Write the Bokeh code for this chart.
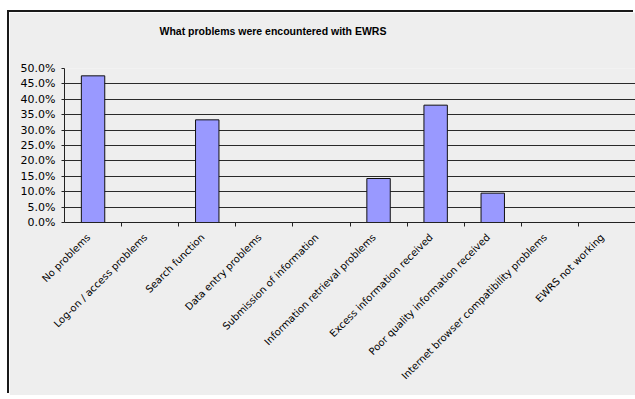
from math import pi

from bokeh.embed import file_html
from bokeh.models import ColumnDataSource, FixedTicker, NumeralTickFormatter, Range1d
from bokeh.plotting import figure
from bokeh.resources import INLINE

# Survey answers: share of respondents naming each problem
categories = [
    "No problems",
    "Log-on / access problems",
    "Search function",
    "Data entry problems",
    "Submission of information",
    "Information retrieval problems",
    "Excess information received",
    "Poor quality information received",
    "Internet browser compatibility problems",
    "EWRS not working",
]
shares = [10 / 21, 0.0, 7 / 21, 0.0, 0.0, 3 / 21, 8 / 21, 2 / 21, 0.0, 0.0]
y_ticks = [0.0, 0.05, 0.10, 0.15, 0.20, 0.25, 0.30, 0.35, 0.40, 0.45, 0.50]
chart_title = "What problems were encountered with EWRS"

positions = [i + 0.5 for i in range(len(categories))]
source = ColumnDataSource(dict(x=positions, share=shares, name=categories))

BG = "#EEEEEE"

p = figure(
    width=626,
    height=383,
    x_range=Range1d(0, len(categories)),
    y_range=Range1d(0, 0.5),
    output_backend="svg",
    toolbar_location=None,
    min_border_left=55,
    min_border_right=0,
    min_border_top=56,
    min_border_bottom=173,
    background_fill_color=BG,
    border_fill_color=BG,
    outline_line_color=None,
    title=chart_title + "\n \n ",
)
p.margin = (12, 0, 0, 9)
# dark frame line along the top and left of the chart area
p.styles = {"box-shadow": "-2px -2px 0 0 #1a1a1a"}

# chart title, kept near the top of the chart area by the padding lines
p.title.align = "left"
p.title.vertical_align = "top"
p.title.offset = 95
p.title.standoff = 12
p.title.text_font = "Liberation Sans"
p.title.text_font_style = "bold"
p.title.text_font_size = "10.5px"
p.title.text_color = "#000000"

# bars
p.vbar(x="x", top="share", width=0.41, source=source,
       fill_color="#9999FF", line_color="#111111", line_width=1)

# y axis: percentages with horizontal grid
p.yaxis.ticker = FixedTicker(ticks=y_ticks)
p.yaxis.formatter = NumeralTickFormatter(format="0.0%")
p.yaxis.major_label_text_font = "DejaVu Sans"
p.yaxis.major_label_text_font_size = "11px"
p.yaxis.major_label_text_color = "#000000"
p.yaxis.major_tick_out = 3
p.yaxis.major_tick_in = 0
p.yaxis.minor_tick_line_color = None
p.yaxis.axis_line_color = "#222222"
p.yaxis.major_tick_line_color = "#222222"
p.yaxis.major_label_standoff = 6
p.ygrid.grid_line_color = "#2a2a2a"
p.ygrid.grid_line_width = 1
p.xgrid.grid_line_color = None

# x axis: slanted category names ending just left of each bar centre,
# tick marks between categories
label_at = [pos - 0.08 for pos in positions]
p.xaxis.ticker = FixedTicker(ticks=label_at, minor_ticks=list(range(1, len(categories))))
p.xaxis.major_label_overrides = {pos: name for pos, name in zip(label_at, categories)}
p.xaxis.major_label_orientation = pi / 4
p.xaxis.major_label_text_font = "DejaVu Sans"
p.xaxis.major_label_text_font_size = "10px"
p.xaxis.major_label_text_color = "#000000"
p.xaxis.major_tick_out = 0
p.xaxis.major_tick_in = 0
p.xaxis.minor_tick_out = 4
p.xaxis.minor_tick_in = 0
p.xaxis.minor_tick_line_color = "#222222"
p.xaxis.axis_line_color = "#222222"
p.xaxis.major_label_standoff = 9

open("out.html", "w").write(file_html(p, INLINE))
